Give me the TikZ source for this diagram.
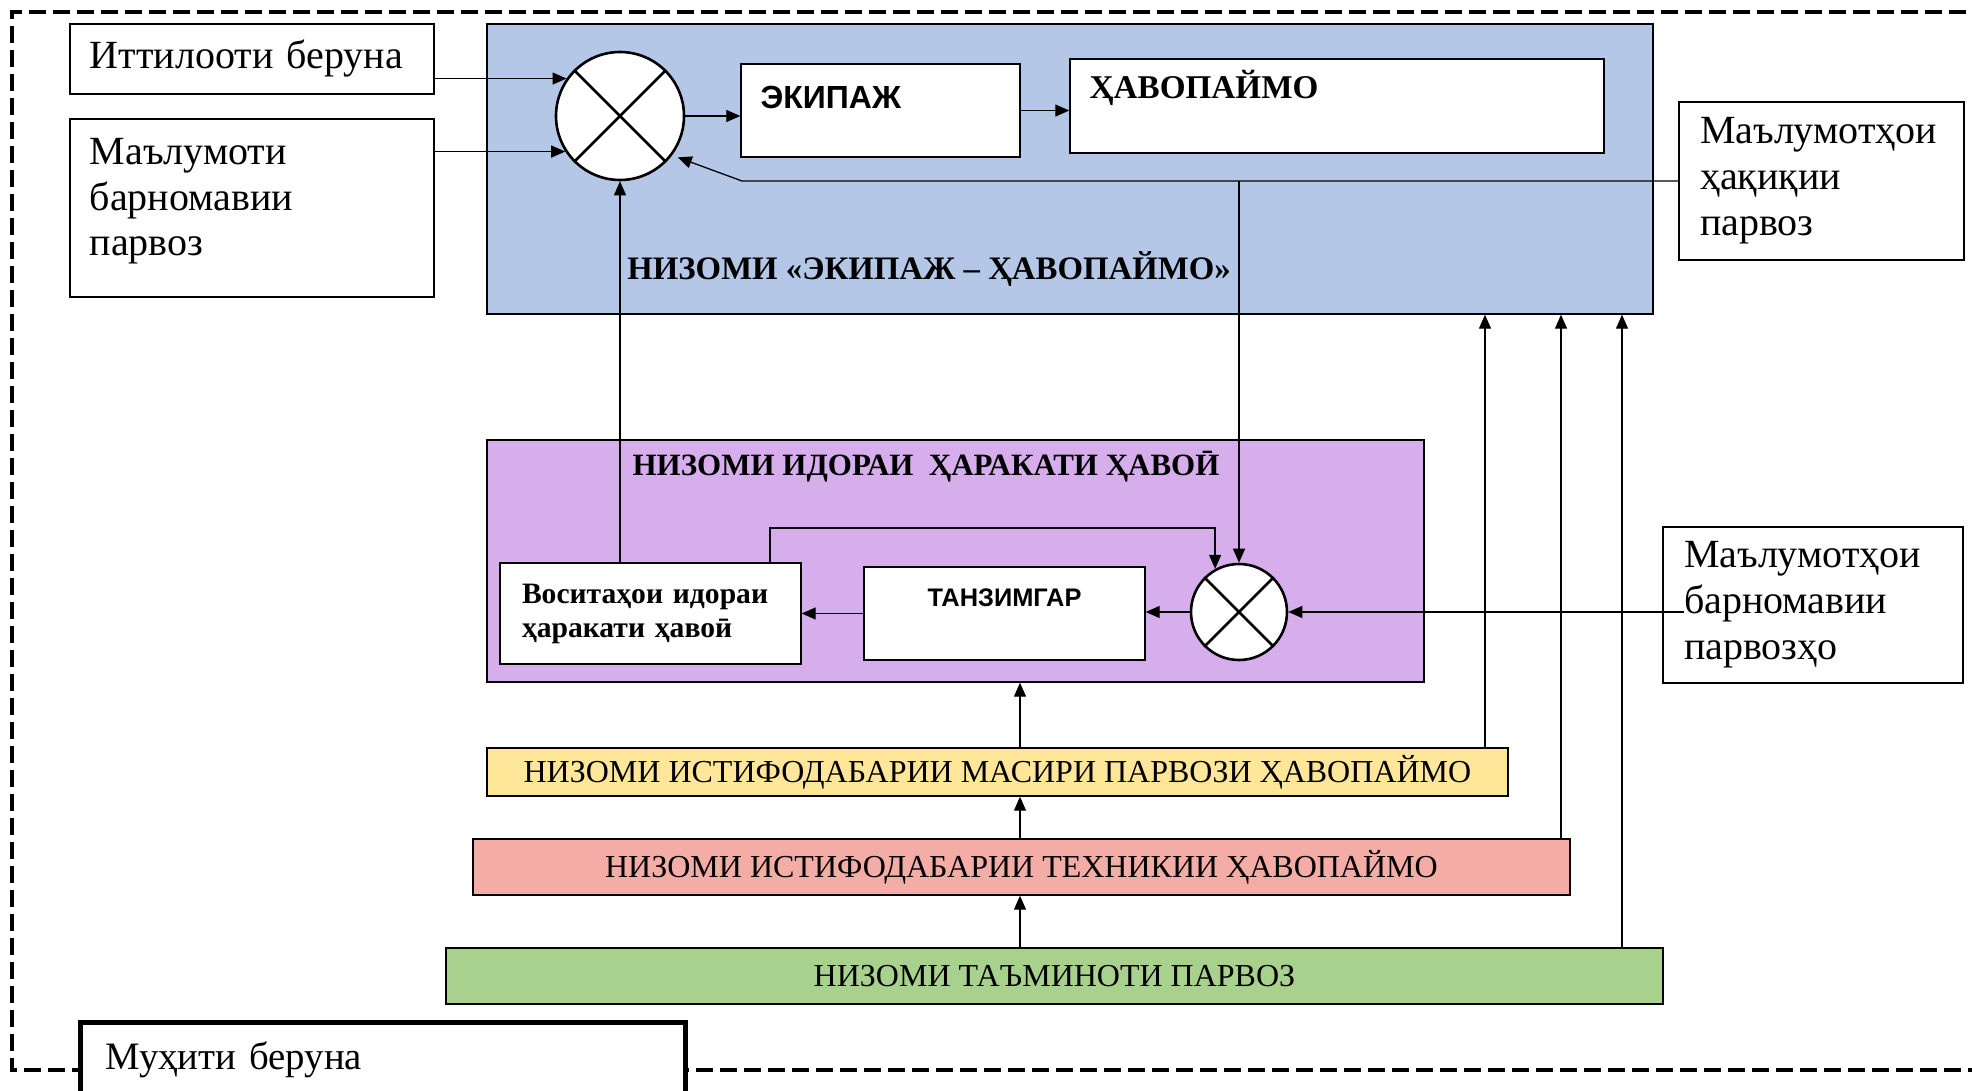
\documentclass[tikz,border=0pt]{standalone}
\usepackage{fontspec}
\setmainfont{Liberation Serif}
\newfontfamily\arialfnt{Liberation Sans}
\usetikzlibrary{arrows.meta}

\definecolor{ekblue}{RGB}{180,199,231}
\definecolor{idviolet}{RGB}{214,174,236}
\definecolor{stripyellow}{RGB}{255,230,153}
\definecolor{stripred}{RGB}{244,172,167}
\definecolor{stripgreen}{RGB}{169,209,142}

\tikzset{
  box/.style={draw, line width=0.7pt, fill=white, rectangle, inner sep=0pt},
  txtbox/.style={box, align=left, inner xsep=10pt, font=\fontsize{20pt}{22.6pt}\selectfont},
  strip/.style={box, align=center, font=\fontsize{16pt}{18pt}\selectfont},
  sumnode/.style={circle, draw, line width=1.3pt, fill=white, inner sep=0pt},
  conn/.style={line width=0.65pt, -{Triangle[length=7pt,width=6pt]}},
  titletxt/.style={font=\bfseries, inner sep=0pt}
}

\begin{document}
\begin{tikzpicture}[line cap=butt,line join=miter,x=0.5pt,y=-0.5pt]
\useasboundingbox (0,0) rectangle (1972,1091);
% outer environment border
\draw[line width=2.3pt, dash pattern=on 8.5pt off 3.5pt] (1990,12) -- (12,12) -- (12,1070) -- (1990,1070);

% system "crew - aircraft"
\node[box, fill=ekblue, minimum width=583pt, minimum height=145pt] (ekbox) at (1070,169) {};
\node[titletxt, font=\bfseries\fontsize{16.4pt}{18pt}\selectfont] (ektitle) at (929,269) {НИЗОМИ «ЭКИПАЖ – ҲАВОПАЙМО»};
\node[sumnode, minimum size=64pt] (sum1) at (620,116) {};
\draw[line width=1.3pt] (sum1.45) -- (sum1.225) (sum1.135) -- (sum1.315);
\node[box, minimum width=139.5pt, minimum height=46.5pt] (ekipazh) at (880.5,110.5) {};
\node[anchor=west, inner sep=0pt, font=\arialfnt\bfseries\fontsize{16pt}{18pt}\selectfont] (ekipazhlbl) at ([shift={(20,34)}]ekipazh.north west) {ЭКИПАЖ};
\node[box, minimum width=267pt, minimum height=47pt] (havo) at (1337,106) {};
\node[anchor=west, inner sep=0pt, font=\bfseries\fontsize{16.6pt}{18pt}\selectfont] (havolbl) at ([shift={(20,30)}]havo.north west) {ҲАВОПАЙМО};

% inputs on the left and right
\node[txtbox, text width=162pt, minimum height=35pt] (itt) at (252,59) {Иттилооти беруна};
\node[box, minimum width=182pt, minimum height=89pt] (barn) at (252,208) {};
\node[anchor=north west, inner sep=0pt, align=left, font=\fontsize{20pt}{22.6pt}\selectfont] (barnlbl) at ([shift={(20,20)}]barn.north west) {Маълумоти\\барномавии\\парвоз};
\node[txtbox, inner xsep=10.5pt, text width=121.5pt, minimum height=79pt, font=\fontsize{20pt}{23pt}\selectfont] (real) at (1821.5,181) {Маълумотҳои\\ҳақиқии\\парвоз};
\node[txtbox, inner xsep=10.5pt, text width=129pt, minimum height=78pt, font=\fontsize{20pt}{23pt}\selectfont] (prog) at (1813,605) {Маълумотҳои\\барномавии\\парвозҳо};

% air traffic control system
\node[box, fill=idviolet, minimum width=468.5pt, minimum height=121pt] (idora) at (955.5,561) {};
\node[titletxt, font=\bfseries\fontsize{15.5pt}{18pt}\selectfont] (idoratitle) at (926,467) {НИЗОМИ ИДОРАИ\ \ ҲАРАКАТИ ҲАВОӢ};
\node[box, align=left, inner xsep=11pt, text width=128.5pt, minimum height=50.5pt, font=\bfseries\fontsize{14.8pt}{17pt}\selectfont] (vosita) at (650.5,613.5) {Воситаҳои идораи\\ҳаракати ҳавоӣ};
\node[box, minimum width=140.5pt, minimum height=46.5pt] (tanzim) at (1004.5,613.5) {};
\node[inner sep=0pt, font=\arialfnt\bfseries\fontsize{12.7pt}{14pt}\selectfont] (tanzimlbl) at ([shift={(0,31)}]tanzim.north) {ТАНЗИМГАР};
\node[sumnode, minimum size=48pt] (sum2) at (1239,612) {};
\draw[line width=1.3pt] (sum2.45) -- (sum2.225) (sum2.135) -- (sum2.315);

% supporting systems
\node[strip, fill=stripyellow, minimum width=510.5pt, minimum height=24pt] (masir) at (997.5,772) {НИЗОМИ ИСТИФОДАБАРИИ МАСИРИ ПАРВОЗИ ҲАВОПАЙМО};
\node[strip, fill=stripred, minimum width=548.5pt, minimum height=28pt] (tekhnika) at (1021.5,867) {НИЗОМИ ИСТИФОДАБАРИИ ТЕХНИКИИ ҲАВОПАЙМО};
\node[strip, fill=stripgreen, minimum width=608.5pt, minimum height=28pt] (taminot) at (1054.5,976) {НИЗОМИ ТАЪМИНОТИ ПАРВОЗ};

\node[box, line width=2.5pt, align=left, inner xsep=12.8pt, text width=276.9pt, minimum height=38pt, font=\fontsize{19.4pt}{22pt}\selectfont] (muhit) at (382.5,1060) {Муҳити беруна};

% connections
\draw[conn] (sum1.145 -| itt.east) -- (sum1.145);
\draw[conn] (sum1.213 -| barn.east) -- (sum1.213);
\draw[conn] (sum1.east) -- (sum1.east -| ekipazh.west);
\draw[conn] (ekipazh.east) -- (ekipazh.east -| havo.west);
\coordinate (fbturn) at (742,181);
\draw[conn, shorten >=3pt] (real.west) -- (fbturn) -- (sum1.323);
\draw[conn] (real.west -| sum2.north) -- (sum2.north);
\coordinate (vturn) at (770,528);
\draw[conn] (vosita.north -| vturn) -- (vturn) -- (vturn -| sum2.119) -- (sum2.119);
\draw[conn] (vosita.north -| sum1.south) -- (sum1.south);
\draw[conn] (sum2.west) -- (sum2.west -| tanzim.east);
\draw[conn] (tanzim.west) -- (tanzim.west -| vosita.east);
\coordinate (progend) at (1684,612);
\draw[conn] (progend |- sum2.east) -- (sum2.east);
\coordinate (chain) at (1020,0);
\draw[conn] (masir.north -| chain) -- (idora.south -| chain);
\draw[conn] (tekhnika.north -| chain) -- (masir.south -| chain);
\draw[conn] (taminot.north -| chain) -- (tekhnika.south -| chain);
\coordinate (up1) at (1485,0);
\coordinate (up2) at (1561,0);
\coordinate (up3) at (1622,0);
\foreach \nd/\cc in {masir/up1, tekhnika/up2, taminot/up3}
  \draw[conn] (\nd.north -| \cc) -- (ekbox.south -| \cc);
\end{tikzpicture}
\end{document}
